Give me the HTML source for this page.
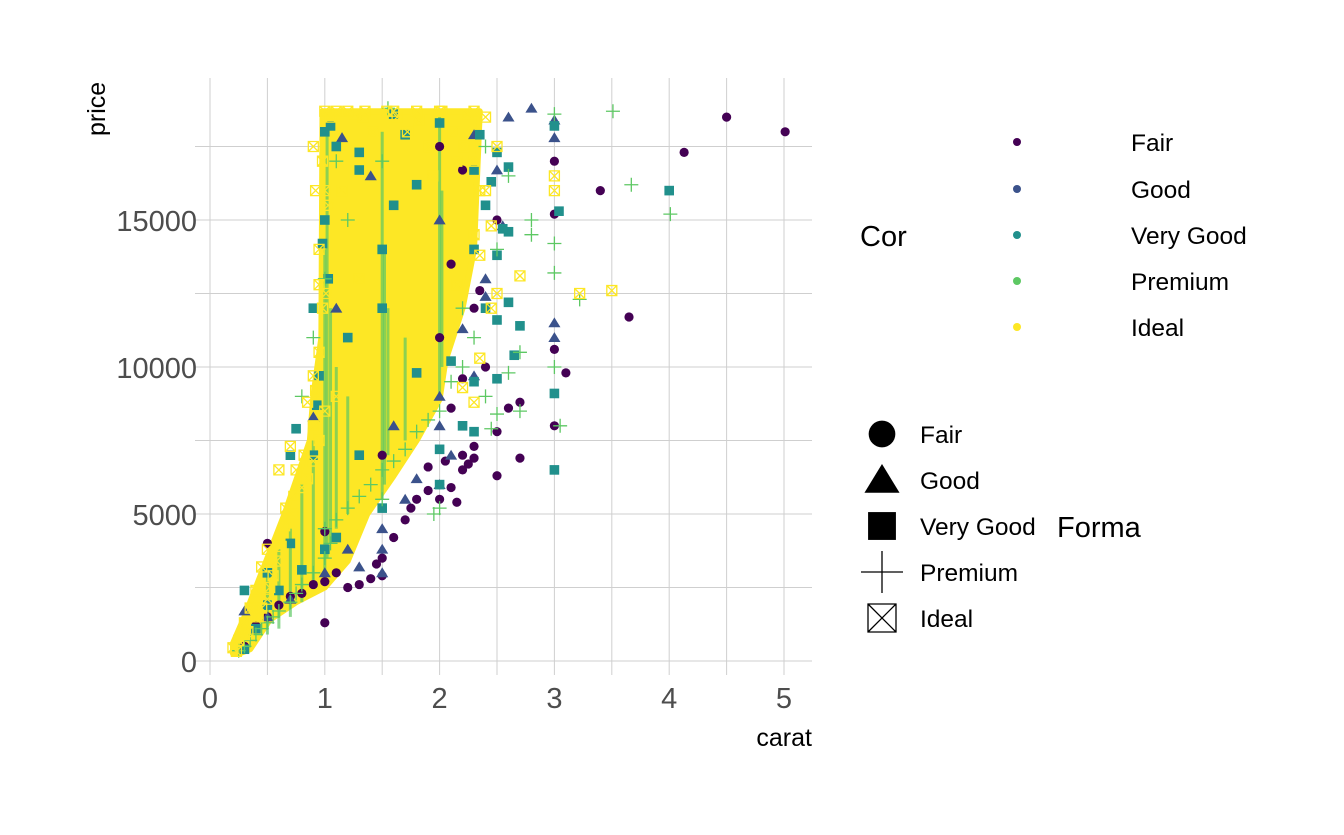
<!DOCTYPE html>
<html><head><meta charset="utf-8">
<style>
body{margin:0;background:#fff;}
svg text{font-family:"Liberation Sans",Arial,sans-serif;}
</style></head>
<body>
<svg id="chart" width="1344" height="830" viewBox="0 0 1344 830" xmlns="http://www.w3.org/2000/svg">
<g id="grid"></g>
<g id="dense"></g>
<g id="marks"></g>
<g id="axes"></g>
<text x="812" y="746" text-anchor="end" font-size="25" fill="#000">carat</text>
<text transform="translate(105,136) rotate(-90)" font-size="25" fill="#000">price</text>
<g id="legend-color">
<text x="860" y="246" font-size="29">Cor</text>
</g>
<g id="legend-shape">
<text x="1057" y="537" font-size="29">Forma</text>
</g>
</svg>
<script>
const xTicks=[0,1,2,3,4,5];
const yTicks=[0,5000,10000,15000];
const cuts=["Fair","Good","Very Good","Premium","Ideal"];
const colors=["#440154","#3B528B","#21908C","#5DC863","#FDE725"];
// envelope of the densely overplotted Ideal/Premium cloud (carat, price vertices)
const denseCarat=[0.2,0.25,0.35,0.52,0.75,1.0,1.2,1.37,1.6,1.8,2.0,2.05,2.2,2.3,2.35,0.98,0.97,0.9,0.87,0.65,0.5,0.4,0.3,0.2];
const densePrice=[250,250,400,1400,2000,2500,3400,5000,6300,7500,8900,10200,12000,14000,18700,18700,11000,9000,7500,5000,3500,2500,1500,600];
// premium streaks inside cloud (carat, low price, high price)
const streakCarat=[0.5,0.6,0.7,0.8,0.9,1.0,1.02,1.05,1.1,1.2,1.5,1.52,1.55,1.7,2.0,2.02];
const streakLow=[900,1100,1500,2000,2500,3000,3500,4000,4500,5000,5500,6000,7000,7500,9000,10000];
const streakHigh=[3000,3800,4500,6000,7500,14000,18000,12000,10000,9000,18000,14000,12000,11000,18500,16000];
const fairPts=[0.3,500,0.4,1200,0.5,1500,0.6,1900,0.7,2200,0.8,2300,0.9,2600,1.0,1300,1.0,2700,1.1,3000,1.2,2500,1.3,2600,1.5,2900,1.5,3500,1.6,4200,1.7,4800,1.8,5500,1.9,5800,2.0,6000,2.0,5500,2.1,5900,2.2,6500,2.3,6900,2.3,7300,2.5,6300,2.5,7800,2.6,8600,2.7,6900,2.7,8800,2.1,8600,2.2,9600,3.0,8000,3.0,10600,3.1,9800,3.0,17000,3.0,15200,3.4,16000,3.65,11700,4.13,17300,4.5,18500,5.01,18000,2.4,10000,2.0,11000,1.5,7000,1.0,4400,0.5,4000,2.5,15000,2.0,17500,2.3,12000,2.35,12600,2.1,13500,2.2,16700,1.4,2800,1.45,3300,1.9,6600,2.05,6800,2.15,5400,2.2,7000,2.25,6700,1.75,5200];
const goodPts=[0.3,1700,0.5,1500,0.7,2100,0.9,8300,1.0,3000,1.2,3800,1.5,3000,1.5,4500,1.7,5500,2.0,6000,2.0,9000,2.2,11300,2.4,13000,2.5,16700,2.6,18500,2.8,18800,3.0,18400,3.0,11500,3.0,11000,2.3,17900,2.0,15000,1.6,8000,1.4,16500,1.1,12000,2.1,7000,1.8,6200,1.15,17800,3.0,17800,2.55,14800,2.4,12400,1.5,3800,2.3,9700,2.0,8000,1.3,3200];
const vgoodPts=[0.3,2400,0.5,3000,0.7,4000,0.75,7900,0.9,7000,0.9,12000,1.0,15000,1.05,18200,1.1,17500,1.3,17300,1.5,14000,1.6,15500,1.8,16200,2.0,6000,2.2,8000,2.3,9500,2.4,12000,2.5,11600,2.5,13800,2.6,14600,2.6,12200,2.65,10400,2.7,11400,2.5,9600,3.0,6500,3.0,9100,3.04,15300,3.0,18200,4.0,16000,2.3,16700,2.5,17300,2.0,18300,1.5,12000,1.3,7000,1.1,4200,0.8,3100,0.6,2400,0.4,1100,1.8,9800,2.1,10200,0.3,400,0.5,1900,1.0,3800,1.5,5200,2.0,7200,1.2,11000,2.3,14000,0.7,7000,1.0,18000,1.3,16700,1.6,18600,2.55,14700,2.3,7800,0.98,14200,1.03,13000,0.93,8700,0.95,9700,2.4,15500,2.45,16300,2.35,17900,1.7,17900,2.6,16800];
const premiumPts=[0.25,350,0.3,500,0.35,700,0.4,900,0.45,1100,0.5,1300,0.55,1500,0.6,1700,0.7,2000,0.75,2300,0.8,2600,0.9,3000,1.0,3500,1.0,4500,1.05,4000,1.1,4800,1.2,5200,1.3,5600,1.4,6000,1.5,5500,1.5,6500,1.6,6800,1.7,7200,1.8,7800,1.9,8200,2.0,8500,2.0,5200,2.1,9500,2.2,10000,2.3,11000,2.5,8400,2.6,9800,2.7,8500,2.7,10500,2.8,15000,2.8,14500,3.0,14200,3.0,13200,3.0,10000,3.0,18600,3.67,16200,4.01,15200,3.51,18700,3.05,8000,2.45,7900,2.4,9000,1.95,5000,2.2,12000,2.5,14000,2.6,16500,2.4,17500,1.0,13000,1.2,15000,1.5,17000,0.9,11000,0.8,9000,3.22,12300,1.1,17000,1.55,18800];
const idealPts=[0.23,330,0.3,900,0.33,1000,0.42,1500,0.45,1800,0.5,2100,0.52,2500,0.55,2900,0.58,3400,0.62,3900,0.65,4600,0.66,5200,0.72,5000,0.73,5600,0.75,6500,0.8,5900,0.82,7000,0.85,6200,0.9,6800,0.9,8000,0.92,9200,0.95,7500,0.95,10500,0.98,12000,1.0,8500,1.01,12500,1.03,15500,1.05,18500,1.1,9000,1.15,16000,1.26,18600,1.3,13000,1.33,18500,1.42,18000,1.54,18700,1.63,18500,1.72,18000,1.82,18400,1.91,17500,2.02,18700,2.12,18000,2.21,17500,2.25,18600,2.3,14500,2.3,17000,2.4,16000,2.4,18500,2.5,17500,3.22,12500,3.5,12600,3.0,16500,3.0,16000,2.7,13100,0.6,6500,0.7,7300,0.85,8800,0.9,9700,1.35,18700,1.6,18700,1.8,18700,2.0,18700,2.3,18700,0.95,14000,1.0,16000,0.98,17000,0.92,16000,0.95,12800,2.15,12800,2.35,13800,2.45,14800,1.94,16500,2.15,17000,2.35,16000,0.9,17500,1.0,18700,1.1,18700,1.2,18700,2.2,9300,2.3,8800,2.35,10300,2.5,12500,2.45,12000,0.5,3800,0.45,3200,0.4,2400,0.35,1800,0.3,1300,0.25,700,0.2,450];
const allPts=[fairPts,goodPts,vgoodPts,premiumPts,idealPts];

const NS="http://www.w3.org/2000/svg";
const x=c=>210+c*114.8;
const y=p=>661-p*0.0294;
const X0=195,X1=812,Y0=78,Y1=675;
function mk(tag,attrs,parent){const e=document.createElementNS(NS,tag);for(const k in attrs)e.setAttribute(k,attrs[k]);parent.appendChild(e);return e;}
const grid=document.getElementById('grid'),axes=document.getElementById('axes'),marks=document.getElementById('marks'),dense=document.getElementById('dense');
for(let c=0;c<=5;c+=0.5){const l=mk('line',{x1:x(c),x2:x(c),y1:Y0,y2:Y1,stroke:'#cfcfcf','stroke-width':1},grid);

}
for(let p=0;p<=17500;p+=2500){const l=mk('line',{x1:X0,x2:X1,y1:y(p),y2:y(p),stroke:'#cfcfcf','stroke-width':1},grid);

}
xTicks.forEach(t=>{const e=mk('text',{x:x(t),y:708,'text-anchor':'middle','font-size':29,fill:'#4d4d4d'},axes);e.textContent=t;

});
yTicks.forEach(t=>{const e=mk('text',{x:197,y:y(t)+11,'text-anchor':'end','font-size':29,fill:'#4d4d4d'},axes);e.textContent=t;

});

const poly=mk('polygon',{points:denseCarat.map((c,i)=>x(c)+','+y(densePrice[i])).join(' '),fill:'#FDE725',stroke:'#FDE725','stroke-width':6,'stroke-linejoin':'round'},dense);


streakCarat.forEach((c,i)=>{
  const r=mk('rect',{x:x(c)-1.5,y:y(streakHigh[i]),width:3,height:y(streakLow[i])-y(streakHigh[i]),fill:'#5DC863',opacity:0.7},dense);
  
  
});

function shape(i,cx,cy,col,s,parent){
  let e;
  if(i===0){e=mk('circle',{cx:cx,cy:cy,r:4.6*s,fill:col},parent);}
  else if(i===1){const h=5.5*s;e=mk('polygon',{points:`${cx},${cy-h} ${cx+h*1.1},${cy+h*0.8} ${cx-h*1.1},${cy+h*0.8}`,fill:col},parent);}
  else if(i===2){const h=4.8*s;e=mk('rect',{x:cx-h,y:cy-h,width:2*h,height:2*h,fill:col},parent);}
  else if(i===3){const h=7*s;e=mk('path',{d:`M${cx-h} ${cy}H${cx+h}M${cx} ${cy-h}V${cy+h}`,stroke:col,'stroke-width':1.3,fill:'none'},parent);}
  else {const h=5*s;e=mk('path',{d:`M${cx-h} ${cy-h}h${2*h}v${2*h}h${-2*h}zM${cx-h} ${cy-h}L${cx+h} ${cy+h}M${cx+h} ${cy-h}L${cx-h} ${cy+h}`,stroke:col,'stroke-width':1.3,fill:'none'},parent);}
  return e;
}
allPts.forEach((arr,i)=>{for(let k=0;k<arr.length;k+=2){
  const e=shape(i,x(arr[k]),y(arr[k+1]),colors[i],1,marks);
  
  
}});
const lc=document.getElementById('legend-color'),ls=document.getElementById('legend-shape');
const colY=[142,189,235,281,327],shpY=[434,480,526,572,618];
const legScale=[2.9,2.9,2.9,3,2.8];
cuts.forEach((c,i)=>{
  const d=mk('circle',{cx:1017,cy:colY[i],r:4,fill:colors[i]},lc);
  
  
  const t=mk('text',{x:1131,y:colY[i]+9,'font-size':24.5},lc);t.textContent=c;
  
  
  const s=shape(i,882,shpY[i],'#000',legScale[i],ls);
  
  
  const t2=mk('text',{x:920,y:shpY[i]+9,'font-size':24.5},ls);t2.textContent=c;
  
  
});
</script>
</body></html>
